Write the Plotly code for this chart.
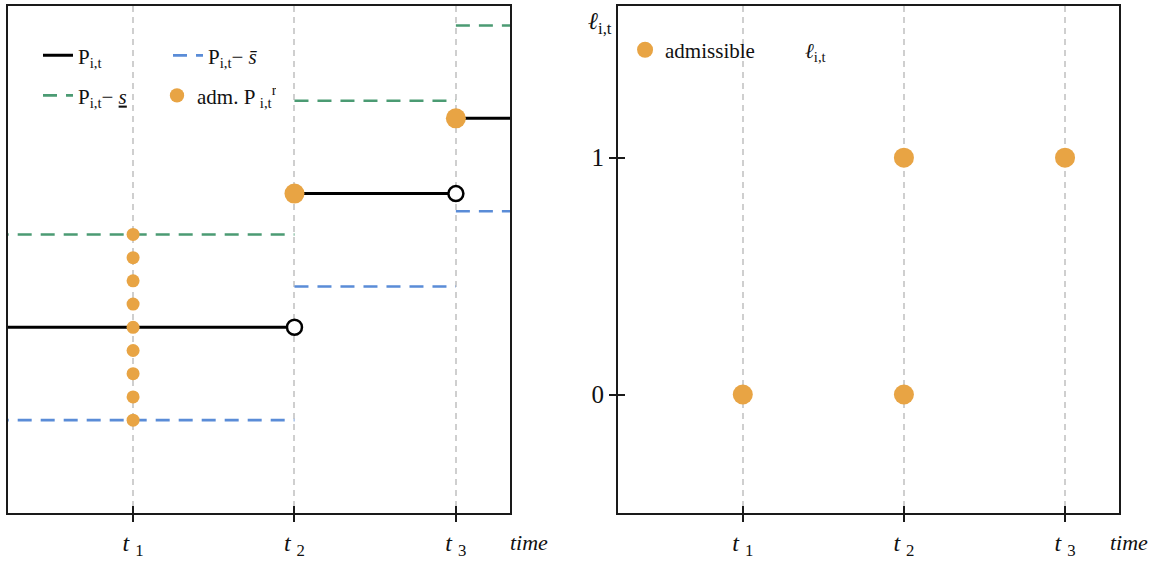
import plotly.graph_objects as go

# ---- data ----
t_vals = [1, 2, 3]
t_labels = ["<i>t</i> <sub>1</sub>", "<i>t</i> <sub>2</sub>", "<i>t</i> <sub>3</sub>"]
x_start, x_end = 0.0, 4.0          # segments run off the plotted window
P = [2.0, 3.44, 4.25]              # P_{i,t} on each interval
s_bar = 1.0                        # P - s_bar (blue)
s_low = -1.0                       # P - s_ (green) -> P + 1
adm_t1 = [0.0, 0.25, 0.5, 0.75, 1.0, 1.25, 1.5, 1.75, 2.0]  # offsets of admissible dots at t1, from P-s_bar
ell_adm_t = [1, 2, 2, 3]
ell_adm_v = [0, 0, 1, 1]

ORANGE = "#E8A444"
BLUE = "#5A8CD7"
GREEN = "#4B9B73"
FONT = "Liberation Serif"

def steps(vals):
    bounds = [x_start] + t_vals[1:] + [x_end]
    xs, ys = [], []
    for i, v in enumerate(vals):
        xs += [bounds[i], bounds[i + 1], None]
        ys += [v, v, None]
    return xs, ys

fig = go.Figure()

xg, yg = steps([p - s_low for p in P])
xb, yb = steps([p - s_bar for p in P])
xk, yk = steps(P)
fig.add_trace(go.Scatter(x=xg, y=yg, mode="lines", line=dict(color=GREEN, width=2.6, dash="14px,9px"),
                         name="P<sub>i,t</sub>− <i><u>s</u></i>", legend="legend2", xaxis="x", yaxis="y"))
fig.add_trace(go.Scatter(x=xk, y=yk, mode="lines", line=dict(color="black", width=3),
                         name="P<sub>i,t</sub>", legend="legend", xaxis="x", yaxis="y"))
fig.add_trace(go.Scatter(x=xb, y=yb, mode="lines", line=dict(color=BLUE, width=2.6, dash="14px,9px"),
                         name="P<sub>i,t</sub>− <i>s̄</i>", legend="legend", xaxis="x", yaxis="y"))

# admissible dots
adm_x = [t_vals[0]] * len(adm_t1) + t_vals[1:]
adm_y = [P[0] - s_bar + d for d in adm_t1] + P[1:]
adm_s = [13] * len(adm_t1) + [20, 20]
fig.add_trace(go.Scatter(x=adm_x, y=adm_y, mode="markers",
                         marker=dict(color=ORANGE, size=adm_s, opacity=1, line=dict(width=0)),
                         name="adm. P <sub>i,t</sub><sup>r</sup>", legend="legend2", xaxis="x", yaxis="y"))
# open circles
fig.add_trace(go.Scatter(x=t_vals[1:], y=P[:-1], mode="markers",
                         marker=dict(color="white", size=15, opacity=1, line=dict(color="black", width=2.5)),
                         showlegend=False, xaxis="x", yaxis="y"))

# right panel
fig.add_trace(go.Scatter(x=ell_adm_t, y=ell_adm_v, mode="markers",
                         marker=dict(color=ORANGE, size=20, opacity=1, line=dict(width=0)),
                         name="admissible", legend="legend3", xaxis="x2", yaxis="y2"))
fig.add_trace(go.Scatter(x=[None], y=[None], mode="markers",
                         marker=dict(color="rgba(0,0,0,0)", size=20),
                         name="<i>ℓ</i><sub>i,t</sub>", legend="legend3", xaxis="x2", yaxis="y2"))
# dummy traces for overlay axes (inner tick halves)
fig.add_trace(go.Scatter(x=[None], y=[None], xaxis="x3", yaxis="y", showlegend=False))
fig.add_trace(go.Scatter(x=[None], y=[None], xaxis="x4", yaxis="y2", showlegend=False))
fig.add_trace(go.Scatter(x=[None], y=[None], xaxis="x2", yaxis="y3", showlegend=False))

xr = [0.225, 3.335]
axis_common = dict(showline=True, linecolor="#1a1a1a", linewidth=2, mirror=True, zeroline=False,
                   automargin=False)
xax = dict(range=xr, tickvals=t_vals, ticktext=t_labels, ticks="outside", ticklen=7, tickwidth=1.5,
           tickcolor="#1a1a1a", showgrid=True, gridcolor="#cfcfcf", gridwidth=1.5, griddash="6px,5px",
           tickfont=dict(family=FONT, size=24, color="#111"), **axis_common)
overlay_common = dict(ticklen=7, tickwidth=1.5, tickcolor="#1a1a1a", showticklabels=False,
                      showgrid=False, showline=False, zeroline=False, automargin=False, ticks="inside")

fig.update_layout(
    width=1171, height=561,
    margin=dict(l=8, r=52, t=6, b=48),
    plot_bgcolor="white", paper_bgcolor="white",
    font=dict(family=FONT, color="#111"),
    xaxis=dict(domain=[0, 0.4518], anchor="y", **xax),
    yaxis=dict(domain=[0, 1], anchor="x", range=[0, 5.46], showticklabels=False, ticks="",
               showgrid=False, **axis_common),
    xaxis2=dict(domain=[0.549, 1], anchor="y2", **xax),
    yaxis2=dict(domain=[0, 1], anchor="x2", range=[-0.5, 1.64], tickvals=[0, 1], ticks="outside",
                ticklen=7, tickwidth=1.5, tickcolor="#1a1a1a", showgrid=False,
                tickfont=dict(family=FONT, size=25, color="#111"), **axis_common),
    xaxis3=dict(overlaying="x", anchor="y", matches="x", tickvals=t_vals, **overlay_common),
    xaxis4=dict(overlaying="x2", anchor="y2", matches="x2", tickvals=t_vals, **overlay_common),
    yaxis3=dict(overlaying="y2", anchor="x2", matches="y2", side="left", tickvals=[0, 1], **overlay_common),
    legend=dict(orientation="h", x=0.027, y=0.902, xanchor="left", yanchor="middle",
                entrywidth=85, entrywidthmode="pixels", bgcolor="rgba(0,0,0,0)",
                font=dict(family=FONT, size=21, color="#111"), traceorder="normal"),
    legend2=dict(orientation="h", x=0.027, y=0.823, xanchor="left", yanchor="middle",
                 entrywidth=74, entrywidthmode="pixels", bgcolor="rgba(0,0,0,0)",
                 font=dict(family=FONT, size=21, color="#111"), traceorder="normal"),
    legend3=dict(orientation="h", x=0.5554, y=0.913, xanchor="left", yanchor="middle",
                 entrywidth=95, entrywidthmode="pixels", bgcolor="rgba(0,0,0,0)",
                 font=dict(family=FONT, size=21, color="#111"), traceorder="normal"),
    annotations=[
        dict(text="<i>time</i>", xref="paper", yref="paper", x=(529 - 8) / 1111, y=(513 - 543) / 508,
             xanchor="center", yanchor="middle", showarrow=False, font=dict(family=FONT, size=22)),
        dict(text="<i>time</i>", xref="paper", yref="paper", x=(1129 - 8) / 1111, y=(513 - 543) / 508,
             xanchor="center", yanchor="middle", showarrow=False, font=dict(family=FONT, size=22)),
        dict(text="<i>ℓ</i><sub>i,t</sub>", xref="paper", yref="paper", x=(600 - 8) / 1111,
             y=(513 - 22) / 508, xanchor="center", yanchor="middle", showarrow=False,
             font=dict(family=FONT, size=24)),
    ],
)

fig.write_html("out.html")
